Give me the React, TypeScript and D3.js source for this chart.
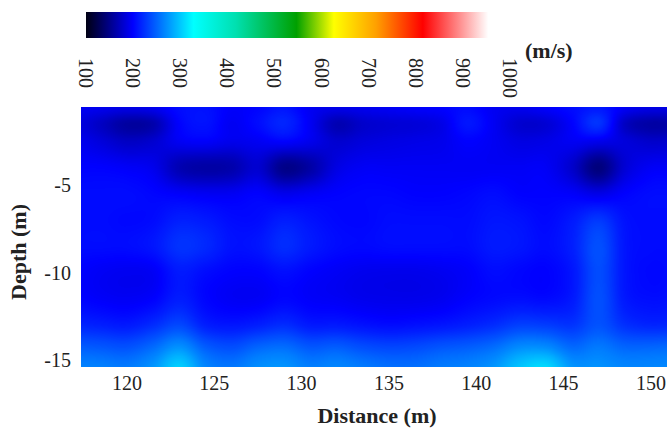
import { useMemo } from 'react';
import * as d3 from 'd3';

// survey grid: distance along line (m) and depth (m, negative down)
const distances = [117, 118.5, 120, 121.5, 123, 124.5, 126, 127.5, 129, 130.5, 132, 133.5, 135, 136.5, 138, 139.5, 141, 142.5, 144, 145.5, 147, 148.5, 150, 151.5];
const depths = [-0.6, -1.5, -2.5, -4, -5.5, -7, -8.5, -10, -11.5, -13, -14.3, -15.4];

// shear-wave velocity (m/s), one row per depth
const velocity = [
  [195, 192, 188, 192, 205, 208, 198, 202, 210, 195, 190, 192, 195, 198, 200, 205, 195, 192, 198, 205, 212, 195, 188, 188],
  [188, 175, 160, 165, 200, 208, 195, 205, 218, 195, 168, 178, 182, 184, 190, 210, 195, 180, 182, 200, 225, 175, 162, 165],
  [194, 185, 175, 180, 195, 198, 192, 195, 200, 192, 180, 185, 188, 190, 192, 200, 195, 188, 190, 195, 192, 185, 178, 180],
  [200, 200, 197, 192, 168, 162, 165, 180, 150, 162, 188, 196, 196, 196, 196, 196, 196, 196, 196, 178, 145, 182, 196, 196],
  [205, 205, 205, 202, 198, 195, 195, 200, 192, 196, 200, 202, 202, 200, 200, 202, 205, 200, 200, 198, 190, 200, 205, 205],
  [205, 205, 203, 205, 215, 212, 205, 205, 214, 208, 203, 202, 205, 205, 205, 205, 210, 208, 203, 212, 228, 208, 205, 205],
  [205, 205, 205, 210, 225, 220, 208, 210, 222, 212, 205, 203, 205, 205, 205, 205, 212, 210, 205, 215, 240, 210, 205, 205],
  [200, 196, 194, 196, 212, 205, 200, 200, 206, 200, 196, 193, 192, 192, 194, 198, 205, 202, 200, 210, 238, 210, 203, 205],
  [202, 198, 196, 200, 214, 202, 196, 196, 202, 198, 196, 193, 192, 192, 194, 200, 204, 206, 204, 212, 240, 212, 206, 208],
  [218, 215, 212, 222, 236, 215, 210, 215, 222, 212, 212, 208, 205, 207, 210, 215, 222, 232, 230, 226, 242, 224, 218, 220],
  [248, 245, 242, 255, 275, 248, 240, 252, 256, 245, 248, 240, 236, 238, 244, 248, 256, 272, 272, 254, 262, 252, 252, 255],
  [266, 265, 262, 276, 305, 268, 260, 272, 275, 264, 268, 262, 256, 256, 262, 266, 276, 300, 310, 276, 274, 268, 268, 270],
];

const xTicks = [120, 125, 130, 135, 140, 145, 150];
const yTicks = [-5, -10, -15];
const cbTicks = [100, 200, 300, 400, 500, 600, 700, 800, 900, 1000];
const cbStops = [100, 200, 330, 420, 550, 630, 720, 820, 900, 960, 1000];
const cbColors = ['#000012', '#0000ff', '#00ffff', '#00e0b0', '#00a000', '#ffff00', '#ffa000', '#ff0000', '#ff9090', '#ffffff', '#ffffff'];

const W = 667;
const H = 432;
const plot = { left: 81, top: 107, right: 667, bottom: 367 };
const bar = { top: 12, bottom: 38 };
const font = '"Liberation Serif", "Times New Roman", serif';

function fracIndex(arr: number[], v: number) {
  const n = arr.length;
  for (let i = 0; i < n - 1; i++) {
    const a = arr[i];
    const b = arr[i + 1];
    if ((v - a) * (v - b) <= 0) return i + (v - a) / (b - a);
  }
  const asc = arr[n - 1] > arr[0];
  return (asc ? v < arr[0] : v > arr[0]) ? 0 : n - 1;
}

// catmull-rom
function cubic(p0: number, p1: number, p2: number, p3: number, t: number) {
  return 0.5 * (2 * p1 + (-p0 + p2) * t + (2 * p0 - 5 * p1 + 4 * p2 - p3) * t * t + (-p0 + 3 * p1 - 3 * p2 + p3) * t * t * t);
}

function sample(fr: number, fc: number) {
  const nr = depths.length;
  const nc = distances.length;
  const r = Math.min(Math.floor(fr), nr - 2);
  const c = Math.min(Math.floor(fc), nc - 2);
  const tr = fr - r;
  const tc = fc - c;
  const row = (i: number) => {
    const v = velocity[Math.max(0, Math.min(nr - 1, i))];
    const g = (j: number) => v[Math.max(0, Math.min(nc - 1, j))];
    return cubic(g(c - 1), g(c), g(c + 1), g(c + 2), tc);
  };
  return cubic(row(r - 1), row(r), row(r + 1), row(r + 2), tr);
}

export default function App() {
  const x = d3.scaleLinear().domain([117.37, 150.92]).range([plot.left, plot.right]);
  const y = d3.scaleLinear().domain([-0.54, -15.4]).range([plot.top, plot.bottom]);
  const color = d3.scaleLinear<string>().domain(cbStops).range(cbColors).interpolate(d3.interpolateRgb).clamp(true);
  const cbX = d3.scaleLinear().domain([100, 1000]).range([86, 510]);

  const heatmap = useMemo(() => {
    const w = plot.right - plot.left;
    const h = plot.bottom - plot.top;
    const canvas = document.createElement('canvas');
    canvas.width = w;
    canvas.height = h;
    const ctx = canvas.getContext('2d');
    if (!ctx) return '';
    const img = ctx.createImageData(w, h);
    const lut = d3.range(100, 1001).map((v) => d3.rgb(color(v)));
    const colIdx = d3.range(w).map((i) => fracIndex(distances, x.invert(plot.left + i + 0.5)));
    const rowIdx = d3.range(h).map((j) => fracIndex(depths, y.invert(plot.top + j + 0.5)));
    for (let j = 0; j < h; j++) {
      for (let i = 0; i < w; i++) {
        const v = Math.max(100, Math.min(1000, sample(rowIdx[j], colIdx[i])));
        const c = lut[Math.round(v) - 100];
        const k = (j * w + i) * 4;
        img.data[k] = c.r;
        img.data[k + 1] = c.g;
        img.data[k + 2] = c.b;
        img.data[k + 3] = 255;
      }
    }
    ctx.putImageData(img, 0, 0);
    return canvas.toDataURL();
  }, []);

  return (
    <svg width={W} height={H} style={{ position: 'absolute', left: 0, top: 0, background: '#fff' }} fontFamily={font}>
      <defs>
        <linearGradient id="cb" x1="0" x2="1" y1="0" y2="0">
          {cbStops.map((s, i) => (
            <stop key={i} offset={(s - 100) / 900} stopColor={cbColors[i]} />
          ))}
        </linearGradient>
      </defs>

      {/* colour bar */}
      <rect x={cbX(100)} y={bar.top} width={cbX(1000) - cbX(100) - 3} height={bar.bottom - bar.top} fill="url(#cb)" />
      {cbTicks.map((t) => (
        <text key={t} transform={`translate(${cbX(t)},58) rotate(90)`} fontSize={20} dy="0.35em" fill="#222">
          {t}
        </text>
      ))}
      <text x={525} y={58} fontSize={22} fontWeight="bold" fill="#222">(m/s)</text>

      {/* velocity section */}
      <image href={heatmap} x={plot.left} y={plot.top} width={plot.right - plot.left} height={plot.bottom - plot.top} preserveAspectRatio="none" />

      {xTicks.map((t) => (
        <text key={t} x={x(t)} y={390} fontSize={20} textAnchor="middle" fill="#222">
          {t}
        </text>
      ))}
      {yTicks.map((t) => (
        <text key={t} x={71} y={y(t)} dy="0.35em" fontSize={20} textAnchor="end" fill="#222">
          {t}
        </text>
      ))}
      <text x={377} y={423} fontSize={22} fontWeight="bold" textAnchor="middle" fill="#222">Distance (m)</text>
      <text transform="translate(26,252) rotate(-90)" fontSize={22} fontWeight="bold" textAnchor="middle" fill="#222">Depth (m)</text>
    </svg>
  );
}
